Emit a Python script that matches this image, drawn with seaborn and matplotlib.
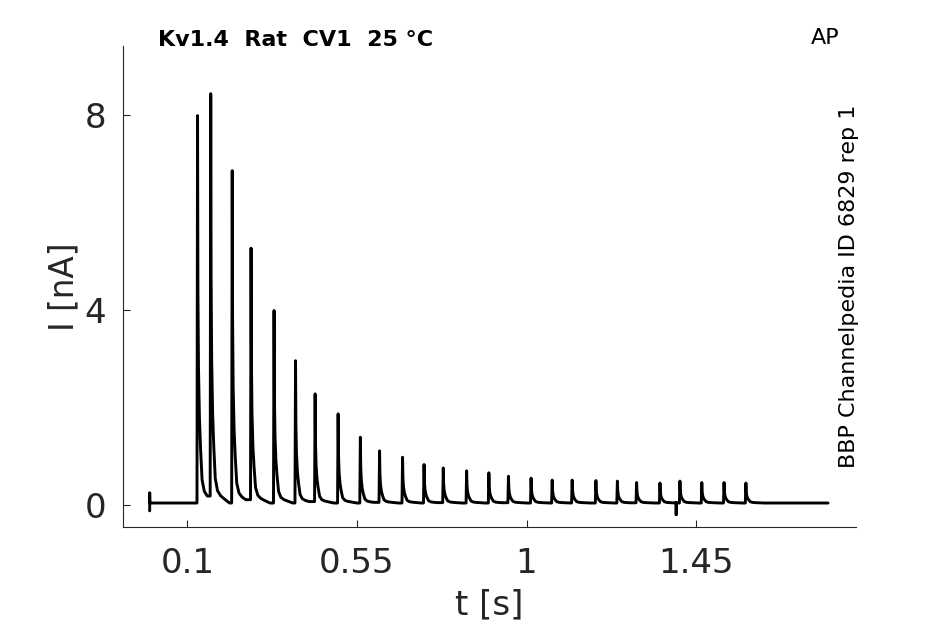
import numpy as np
import pandas as pd
import matplotlib
matplotlib.use("Agg")
import matplotlib.pyplot as plt
import seaborn as sns

# Dados lidos do gráfico
# tempos dos picos (s) e amplitudes dos picos (nA)
spike_t = [0.127, 0.162, 0.219, 0.269, 0.330, 0.387, 0.439, 0.500, 0.559,
           0.610, 0.671, 0.728, 0.779, 0.841, 0.900, 0.952, 1.012, 1.068,
           1.121, 1.184, 1.241, 1.292, 1.354, 1.407, 1.465, 1.524, 1.582]
spike_amp = [7.95, 8.40, 6.82, 5.23, 3.95, 2.92, 2.24, 1.83, 1.35,
             1.07, 0.94, 0.79, 0.72, 0.66, 0.62, 0.55, 0.51, 0.47,
             0.47, 0.46, 0.45, 0.42, 0.41, 0.45, 0.42, 0.42, 0.41]

# forma do decaimento depois de cada pico: atraso (ms) e fração do pico
decay_ms = [0, 1, 2.5, 5, 8, 12, 18, 26, 36, 50]
decay_frac = [1.0, 0.55, 0.35, 0.22, 0.14, 0.06, 0.03, 0.018, 0.01, 0.0]

baseline = 0.04
t_start, t_end = 0.0, 1.80
artifact_lo, artifact_hi = -0.12, 0.25
glitch_t, glitch_amp = 1.397, -0.2

x_ticks = [0.1, 0.55, 1, 1.45]
x_labels = ["0.1", "0.55", "1", "1.45"]
y_ticks = [0, 4, 8]
y_labels = ["0", "4", "8"]

# Montar o traço (vértices da linha)
tt = [t_start, t_start, t_start + 0.0005]
ii = [artifact_lo, artifact_hi, baseline]
next_t = spike_t[1:] + [t_end]
for t0, amp, t1 in zip(spike_t, spike_amp, next_t):
    tt.append(t0 - 0.0015)
    ii.append(ii[-1])
    for d, f in zip(decay_ms, decay_frac):
        tk = t0 + d / 1000
        if tk >= t1 - 0.002:
            break
        tt.append(tk)
        ii.append(baseline + f * amp)
tt.append(t_end)
ii.append(baseline)

k = int(np.searchsorted(tt, glitch_t))
tt[k:k] = [glitch_t, glitch_t, glitch_t]
ii[k:k] = [ii[k - 1], glitch_amp, ii[k - 1]]

df = pd.DataFrame({"t": tt, "I": ii})

# Gráfico
sns.set_style("ticks")
plt.rcParams["font.family"] = ["DejaVu Sans"]

fig = plt.figure(figsize=(9.45, 6.24), dpi=100)
ax = fig.add_axes([0.130, 0.156, 0.776, 0.770])

sns.lineplot(data=df, x="t", y="I", sort=False, estimator=None,
             color="black", linewidth=2.1, ax=ax)

ax.set_xlim(-0.0712, 1.8746)
ax.set_ylim(-0.445, 9.415)
ax.set_xticks(x_ticks)
ax.set_xticklabels(x_labels)
ax.set_yticks(y_ticks)
ax.set_yticklabels(y_labels)

grey = "#262626"
for s in ["top", "right"]:
    ax.spines[s].set_visible(False)
for s in ["left", "bottom"]:
    ax.spines[s].set_color(grey)
    ax.spines[s].set_linewidth(0.8)
ax.tick_params(direction="in", length=5, width=0.8, colors=grey,
               labelsize=24.5)
ax.tick_params(axis="y", pad=12)
ax.tick_params(axis="x", pad=15)

ax.set_xlabel("t [s]", fontsize=24.5, color=grey, labelpad=6)
ax.set_ylabel("I [nA]", fontsize=23.5, color=grey, labelpad=3)

fig.text(158 / 945, 1 - 40 / 624, "Kv1.4  Rat  CV1  25 °C", fontsize=16,
         fontweight="bold", color="black", ha="left", va="center")
fig.text(825 / 945, 1 - 38 / 624, "AP", fontsize=16, color="black",
         ha="center", va="center")
fig.text(849 / 945, 1 - 286 / 624, "BBP Channelpedia ID 6829 rep 1",
         fontsize=16, color="black", rotation=90, ha="center", va="center")

fig.savefig("out.png", dpi=100)
plt.close(fig)
